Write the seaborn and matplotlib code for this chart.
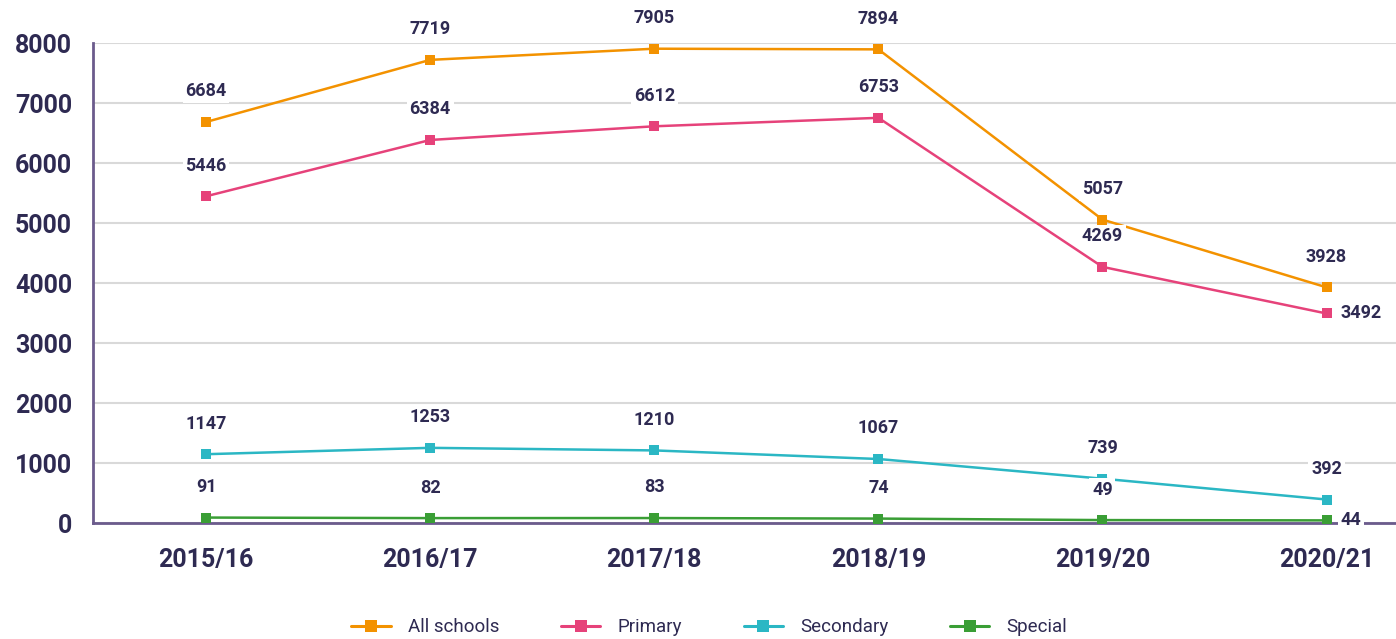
import numpy as np
import pandas as pd
import matplotlib
matplotlib.use("Agg")
import matplotlib.pyplot as plt
import seaborn as sns

# datos
years = ["2015/16", "2016/17", "2017/18", "2018/19", "2019/20", "2020/21"]
all_schools = [6684, 7719, 7905, 7894, 5057, 3928]
primary = [5446, 6384, 6612, 6753, 4269, 3492]
secondary = [1147, 1253, 1210, 1067, 739, 392]
special = [91, 82, 83, 74, 49, 44]

series = ["All schools", "Primary", "Secondary", "Special"]
colors = ["#f39200", "#e6427a", "#2bb7c4", "#3a9e35"]

df = pd.DataFrame({"year": years * 4,
                   "x": list(range(6)) * 4,
                   "value": all_schools + primary + secondary + special,
                   "serie": np.repeat(series, 6)})

sns.set_style("white")
plt.rcParams['font.family'] = ['Roboto', 'DejaVu Sans']
txt = "#2e2a52"

fig = plt.figure(figsize=(13.96, 6.39), dpi=100)
ax = fig.add_axes([0.0666, 0.1815, 0.9334, 0.7512])

sns.lineplot(data=df, x="x", y="value", hue="serie", palette=colors,
             marker="s", markersize=7, markeredgewidth=0, linewidth=1.8,
             ax=ax, legend=True, zorder=3)

ax.set_xlim(-0.505, 5.31)
ax.set_ylim(0, 8000)
ax.set_yticks(np.arange(0, 8001, 1000))
ax.set_xticks(range(6))
ax.set_xticklabels(years)
ax.tick_params(axis="y", labelsize=18, colors=txt, length=0, pad=15)
ax.tick_params(axis="x", labelsize=18, colors=txt, length=0, pad=18)
for t in ax.get_xticklabels() + ax.get_yticklabels():
    t.set_fontweight("bold")
ax.set_xlabel("")
ax.set_ylabel("")
ax.grid(axis="y", color="#d9d9d9", linewidth=1.5, zorder=0)
ax.set_axisbelow(True)
for s in ["top", "right"]:
    ax.spines[s].set_visible(False)
for s in ["left", "bottom"]:
    ax.spines[s].set_color("#6b5b8c")
    ax.spines[s].set_linewidth(2)

# etiquetas de valores
bb = dict(boxstyle="square,pad=0.15", fc="white", ec="none")
vals = [all_schools, primary, secondary, special]
for k, v in enumerate(vals):
    for i, y in enumerate(v):
        if (k == 1 and i == 5) or (k == 3 and i == 5):
            ax.annotate(str(y), (i, y), xytext=(10, 0), textcoords="offset points",
                        ha="left", va="center", fontsize=13, fontweight="bold",
                        color=txt, bbox=bb, zorder=4)
        else:
            ax.annotate(str(y), (i, y), xytext=(0, 22), textcoords="offset points",
                        ha="center", va="center", fontsize=13, fontweight="bold",
                        color=txt, bbox=bb, zorder=4)

h, l = ax.get_legend_handles_labels()
for hh in h:
    hh.set_markersize(9)
    hh.set_linewidth(2.2)
ax.get_legend().remove()
fig.legend(h, l, loc="center", bbox_to_anchor=(0.508, 0.018), ncol=4,
           frameon=False, fontsize=13.5, labelcolor=txt, handlelength=2.1,
           columnspacing=3.3, handletextpad=0.9)

fig.savefig("out.png", dpi=100)
